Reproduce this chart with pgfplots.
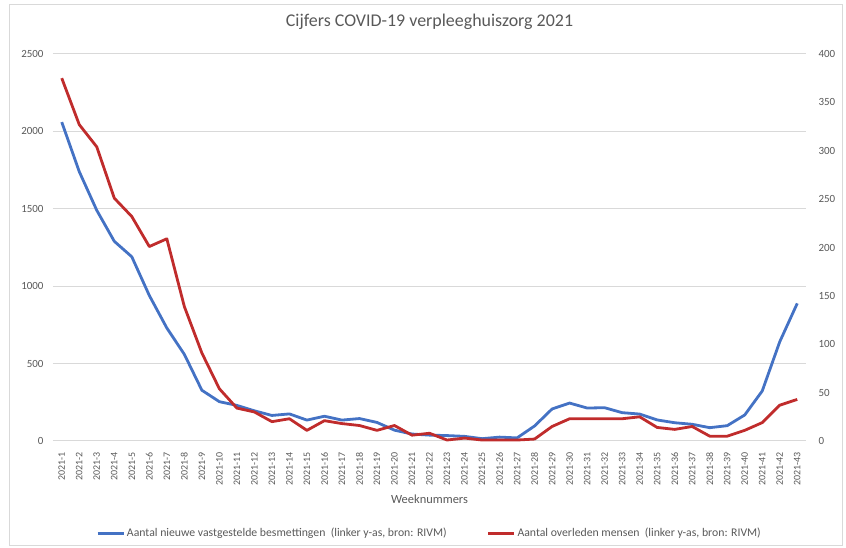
\documentclass[border=0pt]{standalone}
\usepackage{pgfplots}
\pgfplotsset{compat=1.18}
\usepackage{fontspec}
\setmainfont{Carlito}
\definecolor{cblue}{RGB}{68,114,196}
\definecolor{cred}{RGB}{192,44,44}
\definecolor{cgrid}{RGB}{217,217,217}
\definecolor{ctext}{RGB}{89,89,89}
\pgfplotstableread{
w b
1 2060
2 1740
3 1490
4 1290
5 1190
6 940
7 730
8 560
9 328
10 254
11 230
12 195
13 165
14 175
15 135
16 160
17 135
18 145
19 120
20 70
21 45
22 38
23 35
24 30
25 15
26 25
27 20
28 97
29 207
30 245
31 213
32 215
33 183
34 174
35 136
36 118
37 108
38 86
39 99
40 168
41 323
42 641
43 889
}\blue
\pgfplotstableread{
w r
1 375
2 327
3 304
4 251
5 232
6 201
7 209
8 139
9 91
10 54
11 34
12 30
13 20
14 23
15 11
16 21
17 18
18 16
19 11
20 16
21 6
22 8
23 1
24 3
25 1
26 1
27 1
28 2
29 15
30 23
31 23
32 23
33 23
34 25
35 14
36 12
37 15
38 5
39 5
40 11
41 19
42 37
43 43
}\red
\begin{document}
\begin{tikzpicture}[x=1bp,y=1bp]
\useasboundingbox (-53,-107) rectangle (793,441);
\draw[cgrid] (-44,-104) rectangle (789,437);
\begin{axis}[
  at={(0,0)}, anchor=south west,
  scale only axis, width=753bp, height=387bp,
  xmin=0.5, xmax=43.5, ymin=0, ymax=2500,
  xtick={1,...,43},
  xticklabel={2021-\pgfmathprintnumber{\tick}},
  xticklabel style={rotate=90, anchor=east, font=\fontsize{10}{12}\selectfont, text=ctext},
  ytick={0,500,...,2500},
  yticklabel style={font=\fontsize{11}{12}\selectfont, text=ctext},
  /pgf/number format/assume math mode=true,
  /pgf/number format/1000 sep={},
  major tick length=0pt,
  xticklabel shift=8bp,
  yticklabel shift=6bp,
  ymajorgrids, grid style={cgrid, line width=1pt},
  axis line style={draw=none},
  xlabel={Weeknummers},
  xlabel style={at={(axis description cs:0.5,-0.15)}, anchor=center, font=\fontsize{12.5}{14}\selectfont, text=ctext},
  title={Cijfers COVID-19 verpleeghuiszorg 2021},
  title style={at={(axis description cs:0.5,1.067)}, anchor=center, font=\fontsize{18}{20}\selectfont, text=ctext},
  clip=false,
]
\addplot[cblue, line width=2.8bp, line join=round] table[x=w,y=b]{\blue};
\end{axis}
\begin{axis}[
  at={(0,0)}, anchor=south west,
  scale only axis, width=753bp, height=387bp,
  xmin=0.5, xmax=43.5, ymin=0, ymax=400,
  axis x line=none,
  axis y line*=right,
  axis line style={draw=none},
  ytick={0,50,...,400},
  yticklabel style={font=\fontsize{11}{12}\selectfont, text=ctext},
  /pgf/number format/assume math mode=true,
  major tick length=0pt,
  yticklabel shift=9bp,
  legend columns=2,
  legend style={at={(axis description cs:0.5,-0.238)}, anchor=center, draw=none, fill=none,
    font=\fontsize{11.8}{13}\selectfont, text=ctext,
    /tikz/every even column/.append style={column sep=38bp}},
  legend image code/.code={\draw[#1] (0bp,0bp) -- (26bp,0bp);},
  clip=false,
]
\addlegendimage{cblue, line width=2.8bp}
\addlegendentry{Aantal nieuwe vastgestelde besmettingen \ (linker y-as, bron: RIVM)}
\addplot[cred, line width=2.8bp, line join=round] table[x=w,y=r]{\red};
\addlegendentry{Aantal overleden mensen \ (linker y-as, bron: RIVM)}
\end{axis}
\end{tikzpicture}
\end{document}
